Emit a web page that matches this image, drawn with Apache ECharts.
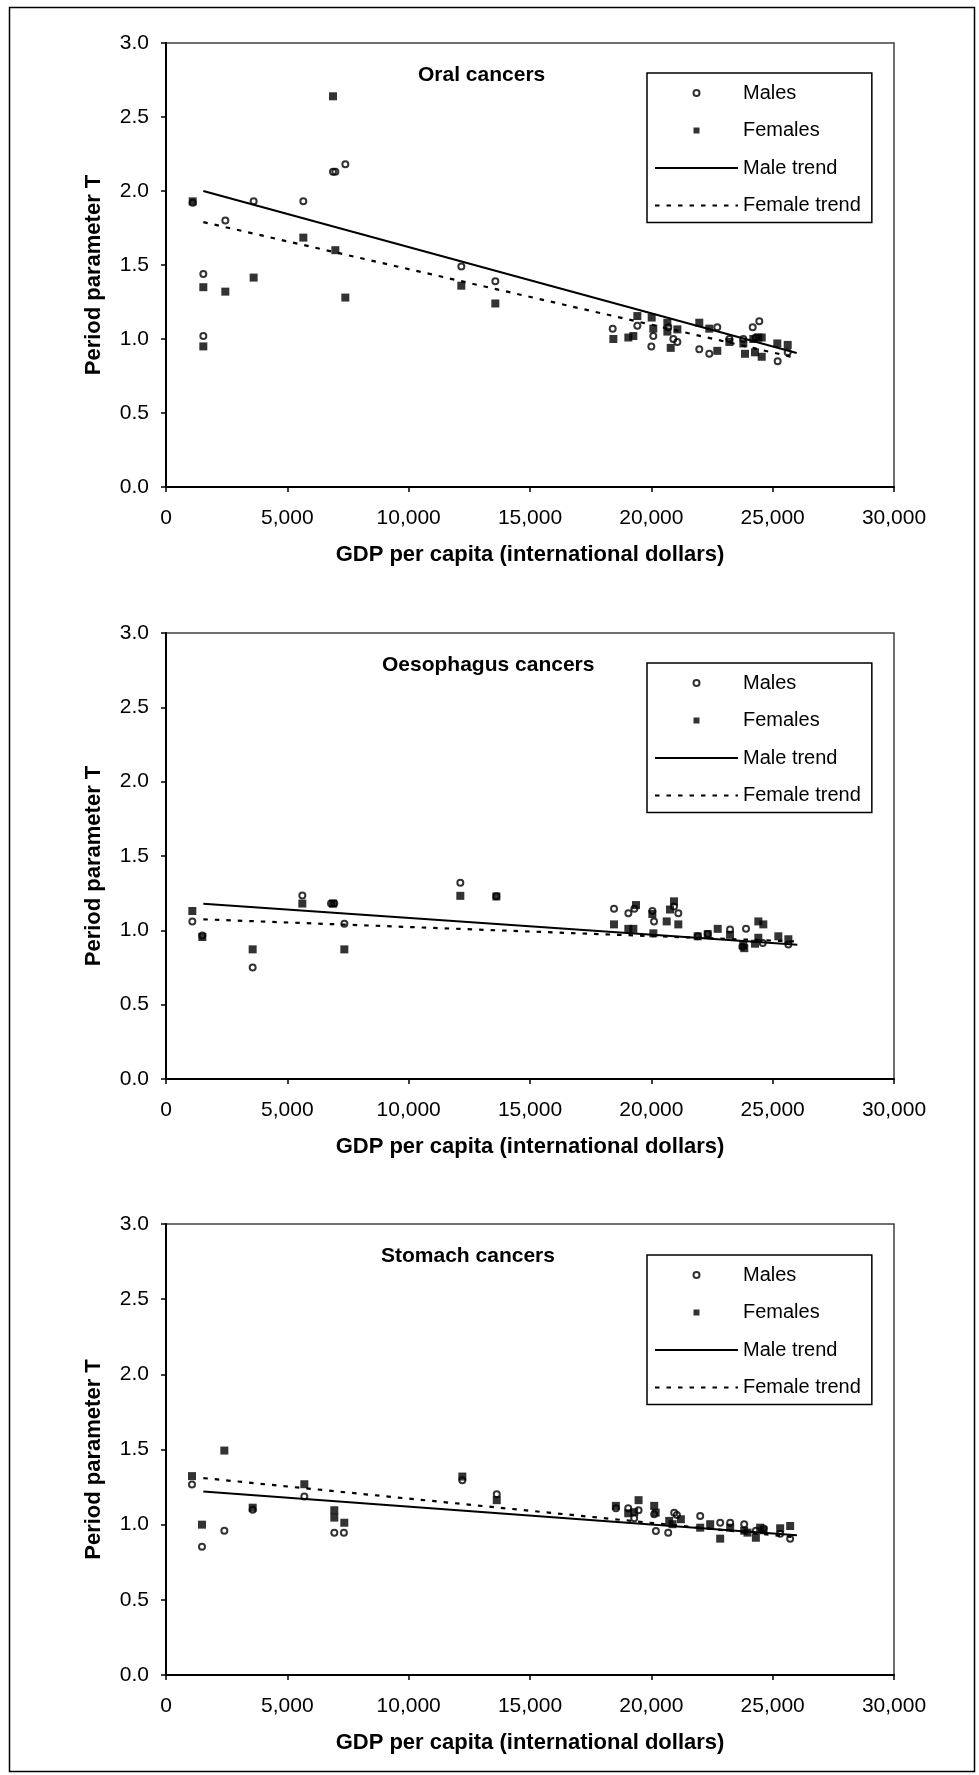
<!DOCTYPE html>
<html>
<head>
<meta charset="utf-8">
<script src="https://cdn.jsdelivr.net/npm/echarts@6/dist/echarts.min.js"></script>
<style>
  html, body { margin: 0; padding: 0; background: #fff; }
  #chart { width: 979px; height: 1775px; }
</style>
</head>
<body>
<div id="chart"></div>
<script>
// Period parameter T against GDP per capita, three cancer sites.
const panelTitles = ['Oral cancers', 'Oesophagus cancers', 'Stomach cancers'];
const seriesNames = ['Males', 'Females', 'Male trend', 'Female trend'];
const xTickLabels = ['0', '5,000', '10,000', '15,000', '20,000', '25,000', '30,000'];
const yTickLabels = ['0.0', '0.5', '1.0', '1.5', '2.0', '2.5', '3.0'];

// Oral cancers
const oralMaleGdp = [1100, 1538, 1538, 2445, 3612, 5659, 6882, 6978, 7390, 12170, 13572, 18408, 19424, 20000, 20080, 20700, 20907, 21073, 21976, 22388, 22718, 23215, 23791, 24177, 24300, 24450, 25206, 25620];
const oralMaleT   = [1.92, 1.44, 1.02, 1.80, 1.93, 1.93, 2.13, 2.13, 2.18, 1.49, 1.39, 1.07, 1.09, 0.95, 1.02, 1.08, 1.00, 0.98, 0.93, 0.90, 1.08, 1.00, 1.00, 1.08, 1.01, 1.12, 0.85, 0.91];
const oralFemaleGdp = [1100, 1538, 1538, 2445, 3612, 5659, 6882, 6978, 7390, 12170, 13572, 18435, 19053, 19259, 19424, 20015, 20080, 20660, 20660, 20799, 21073, 21976, 22388, 22718, 23215, 23791, 23860, 24204, 24273, 24410, 24549, 24549, 25192, 25620];
const oralFemaleT   = [1.93, 1.35, 0.95, 1.32, 1.415, 1.685, 2.64, 1.60, 1.28, 1.36, 1.24, 1.00, 1.01, 1.02, 1.155, 1.145, 1.07, 1.11, 1.05, 0.94, 1.065, 1.11, 1.07, 0.92, 0.98, 0.97, 0.90, 1.00, 0.91, 1.01, 1.01, 0.88, 0.97, 0.96];
const oralMaleTrend   = [[1538, 2.00], [25990, 0.905]];
const oralFemaleTrend = [[1538, 1.79], [25900, 0.875]];

// Oesophagus cancers
const oesoMaleGdp = [1085, 1497, 3571, 5618, 6800, 6936, 7349, 12129, 13613, 18462, 19053, 19300, 20042, 20111, 20935, 21112, 21910, 22323, 23243, 23750, 23902, 24590, 25646];
const oesoMaleT   = [1.06, 0.965, 0.75, 1.235, 1.18, 1.18, 1.045, 1.32, 1.23, 1.145, 1.115, 1.145, 1.13, 1.06, 1.16, 1.115, 0.96, 0.975, 1.005, 0.89, 1.01, 0.915, 0.905];
const oesoFemaleGdp = [1085, 1497, 3571, 5618, 6880, 7349, 12129, 13613, 18462, 19053, 19259, 19369, 20042, 20083, 20633, 20770, 20935, 21112, 21910, 22323, 22735, 23243, 23791, 23830, 24273, 24409, 24409, 24615, 25234, 25646];
const oesoFemaleT   = [1.13, 0.955, 0.872, 1.18, 1.18, 0.872, 1.232, 1.228, 1.04, 1.01, 1.01, 1.17, 1.11, 0.98, 1.06, 1.14, 1.195, 1.04, 0.96, 0.975, 1.01, 0.97, 0.90, 0.88, 0.91, 1.06, 0.95, 1.04, 0.96, 0.94];
const oesoMaleTrend   = [[1538, 1.178], [26017, 0.903]];
const oesoFemaleTrend = [[1538, 1.074], [25990, 0.925]];

// Stomach cancers
const stomMaleGdp = [1071, 1483, 2404, 3572, 5700, 6936, 7330, 12211, 13630, 18540, 19047, 19294, 19474, 20118, 20188, 20695, 20942, 21053, 22013, 22837, 23249, 23826, 24308, 24625, 25309, 25721];
const stomMaleT   = [1.267, 0.853, 0.96, 1.10, 1.187, 0.947, 0.947, 1.296, 1.203, 1.11, 1.109, 1.043, 1.096, 1.069, 0.958, 0.947, 1.08, 1.065, 1.058, 1.013, 1.013, 1.003, 0.96, 0.975, 0.94, 0.907];
const stomFemaleGdp = [1071, 1483, 2404, 3572, 5700, 6936, 6936, 7348, 12211, 13630, 18540, 19047, 19294, 19474, 20118, 20180, 20737, 20875, 21218, 22013, 22425, 22837, 23249, 23826, 23963, 24308, 24485, 24625, 25309, 25721];
const stomFemaleT   = [1.323, 1.0, 1.493, 1.113, 1.269, 1.096, 1.047, 1.013, 1.32, 1.163, 1.125, 1.076, 1.083, 1.163, 1.125, 1.08, 1.025, 1.003, 1.036, 0.98, 1.003, 0.907, 0.98, 0.96, 0.947, 0.913, 0.98, 0.963, 0.976, 0.991];
const stomMaleTrend   = [[1538, 1.22], [26000, 0.929]];
const stomFemaleTrend = [[1538, 1.31], [25990, 0.915]];

const panels = [
  { maleGdp: oralMaleGdp, maleT: oralMaleT, femaleGdp: oralFemaleGdp, femaleT: oralFemaleT, maleTrend: oralMaleTrend, femaleTrend: oralFemaleTrend },
  { maleGdp: oesoMaleGdp, maleT: oesoMaleT, femaleGdp: oesoFemaleGdp, femaleT: oesoFemaleT, maleTrend: oesoMaleTrend, femaleTrend: oesoFemaleTrend },
  { maleGdp: stomMaleGdp, maleT: stomMaleT, femaleGdp: stomFemaleGdp, femaleT: stomFemaleT, maleTrend: stomMaleTrend, femaleTrend: stomFemaleTrend }
];

// Layout
const FONT = "'Liberation Sans', Arial, Helvetica, sans-serif";
const gridLeft = 166, gridWidth = 728;
const gridTops = [43, 633, 1224];
const gridHeights = [444, 446, 451];
const titleLefts = [418, 382, 381];
const titleTops = [64.5, 654.5, 1246];
const legendTops = [73, 663, 1255];
const SQUARE_ICON = 'path://M0,0h10v10h-10z';

const zip = (xs, ys) => xs.map((x, i) => [x, ys[i]]);

const grid = gridTops.map((t, i) => ({
  left: gridLeft, top: t, width: gridWidth, height: gridHeights[i],
  show: true, borderColor: '#404040', borderWidth: 1.5, backgroundColor: 'transparent'
}));

const xAxis = gridTops.map((_, i) => ({
  type: 'value', gridIndex: i, min: 0, max: 30000, interval: 5000,
  name: 'GDP per capita (international dollars)',
  nameLocation: 'middle', nameGap: 57,
  nameTextStyle: { fontFamily: FONT, fontSize: 22, fontWeight: 'bold', color: '#000', lineHeight: 22 },
  axisLine: { show: true, onZero: false, lineStyle: { color: '#000', width: 2 } },
  axisTick: { show: true, length: 5, lineStyle: { color: '#000', width: 1.5 } },
  axisLabel: { fontFamily: FONT, fontSize: 21, color: '#000', margin: 21, lineHeight: 21,
               formatter: v => xTickLabels[Math.round(v / 5000)] },
  splitLine: { show: false }
}));

const yAxis = gridTops.map((_, i) => ({
  type: 'value', gridIndex: i, min: 0, max: 3, interval: 0.5,
  name: 'Period parameter T',
  nameLocation: 'middle', nameGap: 61,
  nameTextStyle: { fontFamily: FONT, fontSize: 22, fontWeight: 'bold', color: '#000', lineHeight: 22, padding: [0, 20, 0, 0] },
  axisLine: { show: true, onZero: false, lineStyle: { color: '#000', width: 2 } },
  axisTick: { show: true, length: 5, lineStyle: { color: '#000', width: 1.5 } },
  axisLabel: { fontFamily: FONT, fontSize: 21, color: '#000', margin: 17,
               formatter: v => yTickLabels[Math.round(v / 0.5)] },
  splitLine: { show: false }
}));

// the trend lines carry no point symbols; a transparent item colour keeps the legend icon a bare line
const hiddenItem = { color: 'rgba(0,0,0,0)', borderColor: 'rgba(0,0,0,0)', borderWidth: 0 };

const series = [];
panels.forEach((p, i) => {
  series.push({
    name: 'Males', type: 'scatter', xAxisIndex: i, yAxisIndex: i,
    symbol: 'circle', symbolSize: 6,
    itemStyle: { color: 'rgba(0,0,0,0)', borderColor: '#000', borderWidth: 2 },
    data: zip(p.maleGdp, p.maleT), z: 3
  });
  series.push({
    name: 'Females', type: 'scatter', xAxisIndex: i, yAxisIndex: i,
    symbol: 'rect', symbolSize: 8,
    itemStyle: { color: '#000' },
    data: zip(p.femaleGdp, p.femaleT), z: 3
  });
  series.push({
    name: 'Male trend', type: 'line', xAxisIndex: i, yAxisIndex: i,
    symbol: 'none', itemStyle: hiddenItem,
    lineStyle: { color: '#000', width: 2, type: 'solid' },
    data: p.maleTrend, z: 4
  });
  series.push({
    name: 'Female trend', type: 'line', xAxisIndex: i, yAxisIndex: i,
    symbol: 'none', itemStyle: hiddenItem,
    lineStyle: { color: '#000', width: 2.2, type: [4.5, 7] },
    data: p.femaleTrend, z: 4
  });
});

const title = panelTitles.map((t, i) => ({
  text: t, left: titleLefts[i], top: titleTops[i], padding: 0,
  textStyle: { fontFamily: FONT, fontSize: 21, fontWeight: 'bold', color: '#000', lineHeight: 21 }
}));

const legend = legendTops.map(t => ({
  orient: 'vertical', left: 647, top: t,
  data: [
    { name: seriesNames[0] },
    { name: seriesNames[1], icon: SQUARE_ICON },
    { name: seriesNames[2] },
    { name: seriesNames[3] }
  ],
  selectedMode: false, symbolKeepAspect: true,
  itemWidth: 83, itemHeight: 6, itemGap: 17.5,
  padding: [10, 11, 7, 7],
  borderColor: '#000', borderWidth: 1.5, backgroundColor: '#fff',
  textStyle: { fontFamily: FONT, fontSize: 20, color: '#000', lineHeight: 20 }
}));

const chart = echarts.init(document.getElementById('chart'), null, { renderer: 'canvas', width: 979, height: 1775 });
chart.setOption({
  animation: false,
  backgroundColor: '#fff',
  title, legend, grid, xAxis, yAxis, series,
  graphic: [{
    type: 'rect', left: 7, top: 5, silent: true, z: -1,
    shape: { width: 965, height: 1764 },
    style: { fill: 'none', stroke: '#000', lineWidth: 1.5 }
  }]
});
</script>
</body>
</html>
